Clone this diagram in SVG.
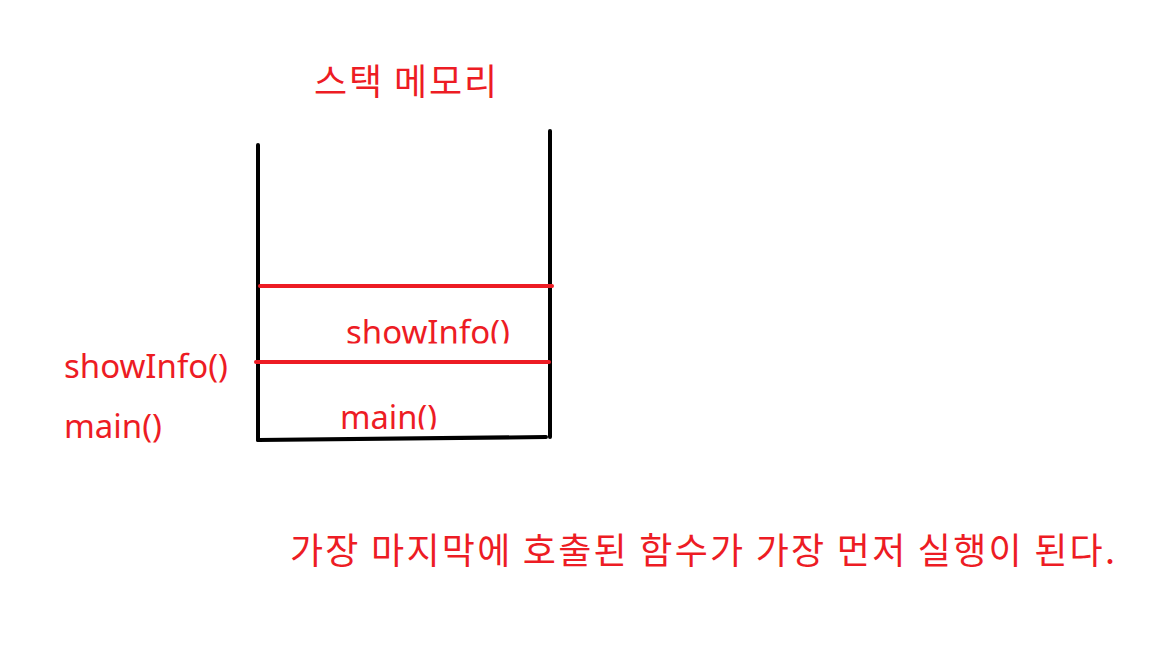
<svg xmlns="http://www.w3.org/2000/svg" width="1152" height="648" viewBox="0 0 1152 648">
  <style>
    .t { fill: #ED1C24; font-family: "Noto Sans", "Noto Sans CJK KR", sans-serif; font-size: 33px; }
    .k { fill: #ED1C24; font-family: "Noto Sans CJK KR", sans-serif; font-size: 36px; }
    .blk { stroke: #000; stroke-width: 4; stroke-linecap: round; fill: none; }
    .red { stroke: #ED1C24; stroke-width: 4; stroke-linecap: round; fill: none; }
  </style>
  <defs>
    <clipPath id="c1"><rect x="300" y="300" width="240" height="43.5"/></clipPath>
    <clipPath id="c2"><rect x="300" y="390" width="240" height="39.5"/></clipPath>
  </defs>
  <rect width="1152" height="648" fill="#fff"/>
  <g id="title"><text class="k" x="314" y="95" textLength="183" lengthAdjust="spacing">스택 메모리</text></g>
  <g id="stack">
    <path class="blk" d="M258 145 L258 440"/>
    <path class="blk" d="M550 131 L550 437"/>
    <path class="blk" d="M258 440 L546 437"/>
  </g>
  <g id="frames">
    <path class="red" d="M260 286 L552 286"/>
    <path class="red" d="M256 362 L549 362"/>
  </g>
  <g id="frame-showInfo"><text class="t" x="346" y="344" textLength="164" lengthAdjust="spacingAndGlyphs" clip-path="url(#c1)">showInfo()</text></g>
  <g id="frame-main"><text class="t" x="340" y="429" textLength="97" lengthAdjust="spacingAndGlyphs" clip-path="url(#c2)">main()</text></g>
  <g id="label-showInfo"><text class="t" x="64" y="378" textLength="164" lengthAdjust="spacingAndGlyphs">showInfo()</text></g>
  <g id="label-main"><text class="t" x="64" y="438" textLength="98" lengthAdjust="spacingAndGlyphs">main()</text></g>
  <g id="caption"><text class="k" x="290" y="564" textLength="825" lengthAdjust="spacing">가장 마지막에 호출된 함수가 가장 먼저 실행이 된다.</text></g>
</svg>
